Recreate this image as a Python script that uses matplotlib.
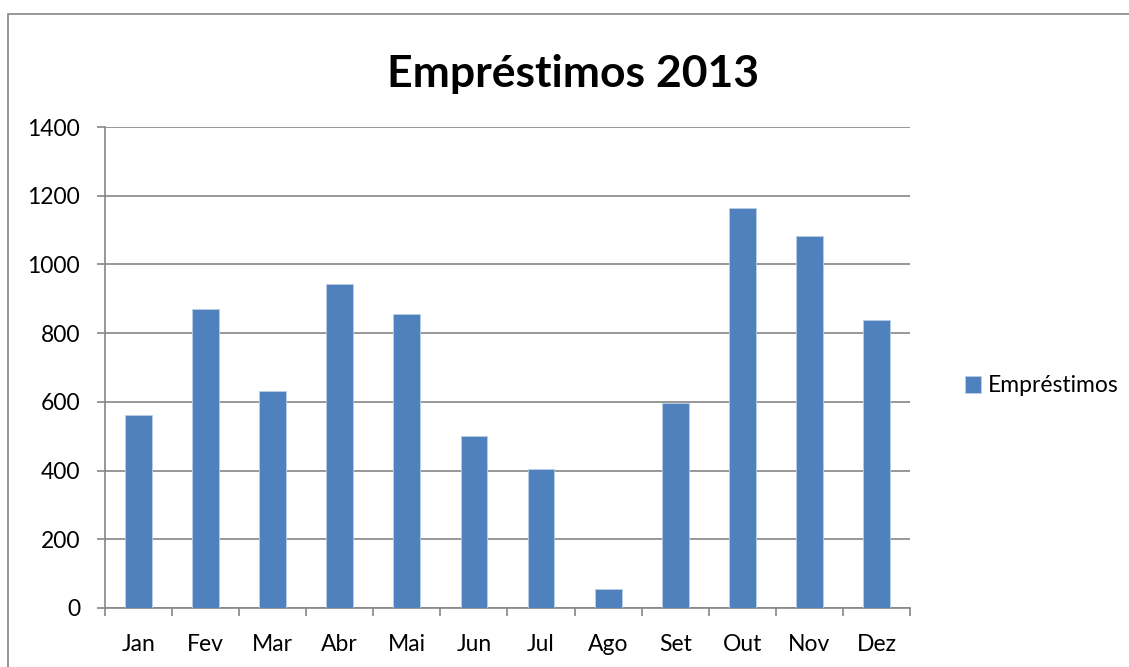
import matplotlib.pyplot as plt
from matplotlib.patches import Rectangle

# dados
meses = ["Jan", "Fev", "Mar", "Abr", "Mai", "Jun", "Jul", "Ago", "Set", "Out", "Nov", "Dez"]
emprestimos = [563, 869, 631, 944, 855, 502, 404, 56, 598, 1165, 1082, 839]
y_ticks = [0, 200, 400, 600, 800, 1000, 1200, 1400]

plt.rcParams['font.family'] = ['Lato', 'DejaVu Sans']

W, H = 1129, 667
fig = plt.figure(figsize=(W / 100, H / 100), dpi=100)

# borda da área do gráfico (estilo Excel)
fig.patches.append(Rectangle((8 / W, -0.1), 1.2, (H - 14) / H + 0.1, transform=fig.transFigure,
                             fill=False, edgecolor="#868686", linewidth=1.2))

ax = fig.add_axes([105 / W, (H - 608) / H, (910 - 105) / W, (608 - 127) / H])

x = range(len(meses))
ax.bar(x, emprestimos, width=0.4, color="#4F81BD", edgecolor="#B9CDE5", linewidth=0.6,
       label="Empréstimos", zorder=3)

ax.set_xlim(-0.5, len(meses) - 0.5)
ax.set_ylim(0, 1400)
ax.set_yticks(y_ticks)
ax.set_xticks(list(x))
ax.set_xticklabels(meses)
ax.set_xticks([i - 0.5 for i in range(len(meses) + 1)], minor=True)
ax.tick_params(axis="x", which="major", length=0, pad=19, labelsize=16.5)
ax.tick_params(axis="x", which="minor", length=6, width=1.2, color="#868686", direction="out")
ax.tick_params(axis="y", length=6, width=1.2, color="#868686", direction="out", pad=12, labelsize=16.5)

ax.grid(axis="y", color="#868686", linewidth=1.2, zorder=0)
for s in ["top", "right"]:
    ax.spines[s].set_visible(False)
for s in ["left", "bottom"]:
    ax.spines[s].set_color("#868686")
    ax.spines[s].set_linewidth(1.2)

fig.text(573 / W, 1 - 87 / H, "Empréstimos 2013", ha="center", va="baseline",
         fontsize=32, fontweight="bold")

ax.legend(loc="center left", bbox_to_anchor=(944 / W, 1 - 386 / H), bbox_transform=fig.transFigure,
          frameon=False, fontsize=16.5, handlelength=0.7, handleheight=0.7, handletextpad=0.3)

fig.savefig("out.png", dpi=100)
